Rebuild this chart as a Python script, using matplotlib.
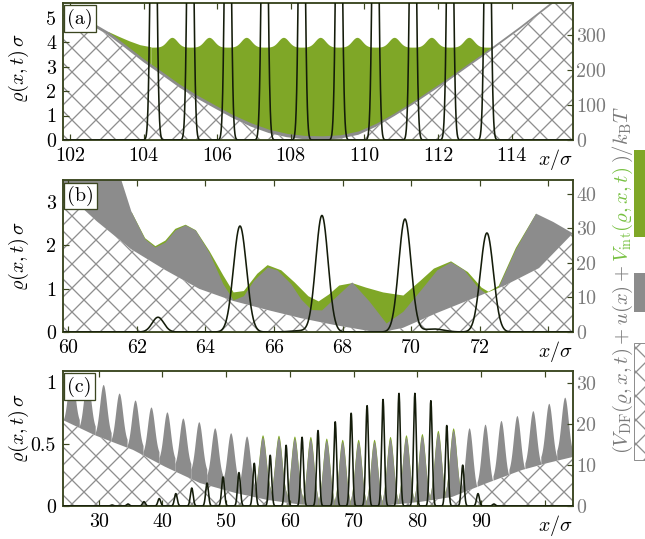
import numpy as np
import matplotlib
matplotlib.use('Agg')
import matplotlib.pyplot as plt
from matplotlib.patches import Rectangle

plt.rcParams['mathtext.fontset'] = 'cm'
plt.rcParams['font.family'] = 'serif'
plt.rcParams['font.serif'] = ['cmr10']
plt.rcParams['axes.unicode_minus'] = False
plt.rcParams['hatch.linewidth'] = 1.3

GREEN = '#7fa727'
GRAY = '#8c8c8c'
HATCH = '#8f8f8f'
SPINE = '#3b4620'
LINE = '#141c0a'
TXTGRAY = '#7a7a7a'

# ---------------- panel (a) ----------------
a_xlim = (101.81, 115.67)
a_peak_x = [104.27, 105.27, 106.29, 107.29, 108.30, 109.31, 110.30, 111.32, 112.33, 113.35]
a_peak_h = [20, 20, 20, 20, 20, 20, 20, 20, 20, 20]
a_peak_s = 0.065
a_hatch_x = [101.81, 102.05, 102.54, 103.03, 103.51, 104.0, 104.49, 104.97, 105.46, 105.94,
             106.43, 106.92, 107.40, 107.89, 108.38, 108.86, 109.35, 109.84, 110.32, 110.81,
             111.30, 111.78, 112.27, 112.75, 113.24, 113.73, 114.21, 114.70, 115.19, 115.67]
a_hatch_u = [368, 352, 330, 300, 262, 222, 186, 150, 118, 90, 62,
             38, 20, 8, 2, 1, 4, 15, 38, 68, 100, 134,
             168, 204, 240, 278, 315, 355, 395, 440]
a_gray_u = [378, 362, 340, 310, 272, 232, 196, 160, 128, 100, 72,
            49, 31, 19, 13, 12, 15, 26, 48, 77, 109, 143,
            177, 213, 249, 287, 324, 364, 404, 450]
a_green_base = 265
a_bump_x = [104.77, 105.78, 106.79, 107.80, 108.80, 109.80, 110.81, 111.82, 112.84]
a_bump_h = [28, 28, 28, 28, 28, 28, 28, 28, 28]
a_bump_s = 0.14
a_gl_x = [103.03, 103.32, 103.61, 103.90, 104.20]
a_gl_u = [310, 296, 283, 272, 266]
a_gr_x = [113.48, 113.77, 114.07, 114.36, 114.55]
a_gr_u = [266, 276, 292, 308, 320]

# ---------------- panel (b) ----------------
b_xlim = (59.85, 74.72)
b_peak_x = [62.62, 65.01, 67.40, 69.82, 72.21, 70.65, 66.79]
b_peak_h = [0.34, 2.44, 2.68, 2.6, 2.28, 0.07, 0.03]
b_peak_s = [0.17, 0.19, 0.18, 0.18, 0.19, 0.3, 0.3]
b_hatch_x = [59.85, 60.84, 61.83, 62.82, 63.82, 64.81, 65.80, 66.79, 67.78, 68.77, 69.27,
             69.76, 70.75, 71.75, 72.74, 73.73, 74.72]
b_hatch_u = [41, 32, 24, 18, 12.5, 9, 6.4, 4, 2, 0.3, 0.2, 1.2, 5.5, 9.5, 13.5, 18.5, 28.6]
b_gray_x = [59.85, 61.34, 61.54, 61.83, 62.23, 62.53, 62.82, 63.11, 63.41, 63.71, 64.11,
            64.51, 64.81, 65.11, 65.41, 65.81, 66.09, 66.49, 66.79, 67.09, 67.39, 67.78,
            68.27, 68.77, 69.27, 69.76, 70.26, 70.75, 71.15, 71.54, 71.94, 72.24, 72.54,
            73.04, 73.63, 74.13, 74.72]
b_gray_u = [60, 46, 44, 35, 27, 24.6, 26, 29.5, 31, 29.5, 23, 14, 9.3, 10.5,
            15, 18.8, 18, 14, 9.5, 6.5, 6.4, 10, 14.5, 9, 2.6, 6, 12,
            18, 20.3, 18, 13, 10.7, 13, 24, 34.4, 32, 28.6]
b_green_x = [61.83, 62.23, 62.53, 62.82, 63.11, 63.41, 63.71, 64.11, 64.51, 64.81, 65.11,
             65.50, 65.80, 66.20, 66.59, 66.99, 67.29, 67.59, 67.89, 68.27, 68.67, 69.17,
             69.76, 70.26, 70.65, 71.15, 71.64, 72.04, 72.24, 72.54, 73.04, 73.63]
b_green_u = [35, 27.3, 25.0, 26.6, 30.0, 31.2, 29.6, 23.5, 16.5, 11.6, 12, 17, 19.5,
             18, 14.5, 10.5, 9, 11, 13.6, 14.3, 13, 11.6, 10.7, 15, 18.5, 20.6,
             17.5, 13, 11.8, 13.5, 24.5, 34.4]

# ---------------- panel (c) ----------------
c_xlim = (24.4, 104.4)
c_peak_x = [32.1, 34.6, 37.1, 39.5, 42.1, 44.6, 47.0, 49.5, 52.0, 54.4, 56.9, 59.4, 61.9,
            64.4, 67.1, 69.6, 72.1, 74.6, 77.1, 79.6, 82.1, 84.6, 87.1, 89.5, 92.0]
c_peak_h = [0.008, 0.016, 0.035, 0.06, 0.1, 0.145, 0.185, 0.235, 0.27, 0.345, 0.41, 0.49, 0.555,
            0.61, 0.68, 0.75, 0.81, 0.86, 0.91, 0.91, 0.85, 0.65, 0.33, 0.1, 0.016]
c_peak_s = 0.22
c_tooth_x = [25.7, 28.2, 30.7, 33.2, 35.7, 38.2, 40.7, 43.2, 45.7, 48.2, 50.7, 53.2, 55.7,
             58.2, 60.7, 63.2, 65.7, 68.2, 70.7, 73.2, 75.7, 78.2, 80.7, 83.2, 85.6, 88.1,
             90.6, 93.1, 95.6, 98.1, 100.6, 103.1]
c_tooth_u = [32.7, 31.2, 29.7, 27.6, 25.9, 24.2, 23.0, 21.5, 20.6, 19.1, 17.9, 17.1, 16.8,
             16.7, 16.5, 16.4, 16.0, 15.7, 15.7, 15.7, 16.4, 16.8, 17.1, 17.9, 18.5, 19.1,
             20.0, 20.9, 22.1, 23.3, 25.1, 26.6]
c_tooth_base = [20.2, 18.6, 17.0, 15.4, 13.9, 12.4, 10.9, 9.5, 8.1, 6.7, 5.4, 4.2, 3.1,
                2.1, 1.2, 0.5, 0.1, 0.0, 0.0, 0.0, 0.1, 0.4, 0.8, 1.4, 2.2, 3.3,
                4.7, 6.3, 7.9, 9.5, 11.0, 12.5]
c_tooth_green = [0, 0, 0, 0, 0, 0, 0, 0, 0, 0, 0, 0, 0.6,
                 0.6, 0.6, 0.6, 0.6, 0.6, 0.6, 0.6, 0.6, 0.6, 0.6, 0.6, 0.6, 0,
                 0, 0, 0, 0, 0, 0]
c_tooth_s = 0.55
c_hatch_x = [24.4, 29.4, 35.4, 40.4, 45.9, 51.4, 56.4, 61.4, 65.4, 69.4, 75.4, 80.4, 85.4,
             90.9, 96.4, 100.4, 104.4]
c_hatch_u = [21, 17.3, 13.7, 9.6, 5.6, 3.2, 1.5, 0.4, 0, 0, 0.2, 1.0, 2.2, 5.6, 8.8, 10.5, 12]

fig = plt.figure(figsize=(645 / 72, 539 / 72), dpi=72)
W, H = 645, 539


def make_axes(top, bottom):
    ax = fig.add_axes([63 / W, (H - bottom) / H, 510 / W, (bottom - top) / H])
    axr = ax.twinx()
    ax.set_zorder(axr.get_zorder() + 1)
    ax.patch.set_visible(False)
    for a in (ax, axr):
        for s in a.spines.values():
            s.set_color(SPINE)
            s.set_linewidth(1.5)
    ax.tick_params(axis='both', direction='in', length=6, width=1.2, color=SPINE,
                   labelsize=20, top=True, right=False, pad=7)
    axr.tick_params(axis='y', direction='in', length=6, width=1.2, color=SPINE,
                    labelsize=20, labelcolor=TXTGRAY, pad=3)
    return ax, axr


def finish_x(ax, xlim, ticks, labels):
    ax.set_xlim(*xlim)
    ax.set_xticks(ticks)
    ax.set_xticklabels(labels)
    ax.annotate(r'$x/\sigma$', xy=(1, 0), xycoords='axes fraction', xytext=(0, -7),
                textcoords='offset points', ha='right', va='top', fontsize=20)


def tag(ax, s):
    ax.text(0.008, 0.96, s, transform=ax.transAxes, ha='left', va='top', fontsize=20,
            bbox=dict(boxstyle='square,pad=0.15', fc='white', ec=SPINE, lw=1.3), zorder=10)


def rho_line(ax, xlim, px, ph, ps):
    xx = np.linspace(xlim[0], xlim[1], 3000)
    yy = np.zeros_like(xx)
    for c, h, s in zip(px, ph, ps):
        yy += h * np.exp(-(xx - c) ** 2 / (2 * s * s))
    ax.plot(xx, yy, color=LINE, lw=1.6, zorder=5)


# ---- (a)
ax, axr = make_axes(3, 140)
axr.fill_between(a_gl_x, 0, a_gl_u, color=GREEN, lw=0)
xm = np.linspace(a_gl_x[-1], a_gr_x[0], 1500)
ym = np.full_like(xm, a_green_base, dtype=float)
for c, h in zip(a_bump_x, a_bump_h):
    ym += h * np.exp(-(xm - c) ** 2 / (2 * a_bump_s ** 2))
axr.fill_between(xm, 0, ym, color=GREEN, lw=0)
axr.fill_between(a_gr_x, 0, a_gr_u, color=GREEN, lw=0)
axr.fill_between(a_hatch_x, 0, a_gray_u, color=GRAY, lw=0)
axr.fill_between(a_hatch_x, 0, a_hatch_u, facecolor='white', edgecolor=HATCH, hatch='x', lw=0)
rho_line(ax, a_xlim, a_peak_x, a_peak_h, [a_peak_s] * len(a_peak_x))
ax.set_ylim(0, 5.6)
axr.set_ylim(0, 391)
ax.set_yticks([0, 1, 2, 3, 4, 5])
ax.set_yticklabels(['0', '1', '2', '3', '4', '5'])
axr.set_yticks([0, 100, 200, 300])
axr.set_yticklabels(['0', '100', '200', '300'])
finish_x(ax, a_xlim, [102, 104, 106, 108, 110, 112, 114],
         ['102', '104', '106', '108', '110', '112', '114'])
tag(ax, '(a)')

# ---- (b)
ax, axr = make_axes(180, 332)
axr.fill_between(b_green_x, 0, b_green_u, color=GREEN, lw=0)
axr.fill_between(b_gray_x, 0, b_gray_u, color=GRAY, lw=0)
axr.fill_between(b_hatch_x, 0, b_hatch_u, facecolor='white', edgecolor=HATCH, hatch='x', lw=0)
rho_line(ax, b_xlim, b_peak_x, b_peak_h, b_peak_s)
ax.set_ylim(0, 3.5)
axr.set_ylim(0, 44)
ax.set_yticks([0, 1, 2, 3])
ax.set_yticklabels(['0', '1', '2', '3'])
axr.set_yticks([0, 10, 20, 30, 40])
axr.set_yticklabels(['0', '10', '20', '30', '40'])
finish_x(ax, b_xlim, [60, 62, 64, 66, 68, 70, 72, 74],
         ['60', '62', '64', '66', '68', '70', '72', ''])
tag(ax, '(b)')

# ---- (c)
ax, axr = make_axes(371, 506)
for c, top, base, g in zip(c_tooth_x, c_tooth_u, c_tooth_base, c_tooth_green):
    xt = np.linspace(c - 1.25, c + 1.25, 120)
    shape = np.exp(-(xt - c) ** 2 / (2 * c_tooth_s ** 2))
    if g > 0:
        axr.fill_between(xt, 0, base + (top + g - base) * shape, color=GREEN, lw=0)
    axr.fill_between(xt, 0, base + (top - base) * shape, color=GRAY, lw=0)
axr.fill_between(c_hatch_x, 0, c_hatch_u, facecolor='white', edgecolor=HATCH, hatch='x', lw=0)
rho_line(ax, c_xlim, c_peak_x, c_peak_h, [c_peak_s] * len(c_peak_x))
ax.set_ylim(0, 1.09)
axr.set_ylim(0, 33)
ax.set_yticks([0, 0.5, 1])
ax.set_yticklabels(['0', '0.5', '1'])
axr.set_yticks([0, 10, 20, 30])
axr.set_yticklabels(['0', '10', '20', '30'])
finish_x(ax, c_xlim, [30, 40, 50, 60, 70, 80, 90, 100],
         ['30', '40', '50', '60', '70', '80', '90', ''])
tag(ax, '(c)')

# left labels
for yc in (68, 256, 428):
    fig.text(19 / W, 1 - yc / H, r'$\varrho(x,t)\,\sigma$', rotation=90, ha='center',
             va='center', fontsize=20)

# right label in coloured pieces, chained bottom to top
pieces = [(r'$(V_{\rm DF}(\varrho,x,t)+u(x)+$', TXTGRAY),
          (r'$V_{\rm int}(\varrho,x,t)$', '#78c142'),
          (r'$)/k_{\rm B}T$', TXTGRAY)]
fig.canvas.draw()
rend = fig.canvas.get_renderer()
ypos = H - 454
xbase = 628
for s, col in pieces:
    t = fig.text(xbase / W, ypos / H, s, rotation=90, rotation_mode='anchor',
                 ha='left', va='baseline', fontsize=20.6, color=col)
    bb = t.get_window_extent(rend)
    ypos += bb.height + 3

# legend swatches
fig.patches.append(Rectangle((634 / W, 1 - 237 / H), 20 / W, 87 / H, transform=fig.transFigure,
                             facecolor=GREEN, edgecolor='none'))
fig.patches.append(Rectangle((634 / W, 1 - 312 / H), 20 / W, 39 / H, transform=fig.transFigure,
                             facecolor=GRAY, edgecolor='none'))
fig.patches.append(Rectangle((634 / W, 1 - 460 / H), 20 / W, 117 / H, transform=fig.transFigure,
                             facecolor='white', edgecolor=HATCH, hatch='x', lw=1))

fig.savefig('out.png', dpi=72)
